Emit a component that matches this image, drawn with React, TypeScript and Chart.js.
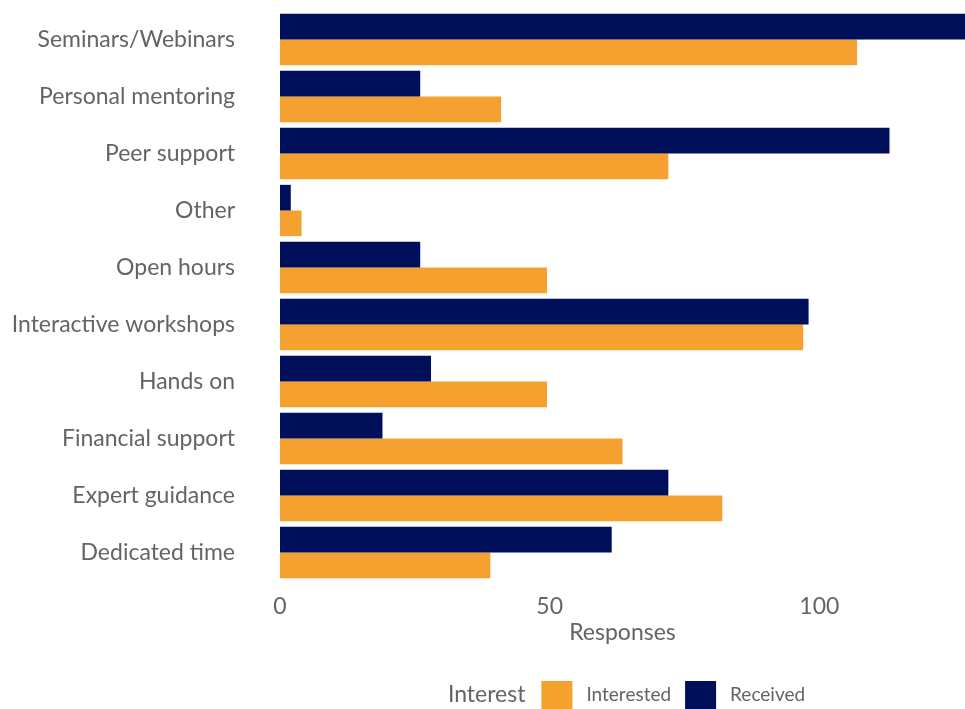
import React, { useEffect, useRef } from "react";
import { Chart, registerables } from "chart.js";

Chart.register(...registerables);

const categories = [
  "Seminars/Webinars",
  "Personal mentoring",
  "Peer support",
  "Other",
  "Open hours",
  "Interactive workshops",
  "Hands on",
  "Financial support",
  "Expert guidance",
  "Dedicated time",
];
const received = [127, 26, 113, 2, 26, 98, 28, 19, 72, 61.5];
const interested = [107, 41, 72, 4, 49.5, 97, 49.5, 63.5, 82, 39];
const xTicks = [0, 50, 100];
const xMax = 127;
const legendTitle = "Interest";
const xTitle = "Responses";

const NAVY = "#000f5a";
const ORANGE = "#f5a12f";
const TEXT = "#646464";
const FONT = "Lato, 'Open Sans', sans-serif";

const legendPlugin = {
  id: "ggLegend",
  afterDraw(chart: any) {
    const ctx = chart.ctx;
    const area = chart.chartArea;
    const items = [
      { label: "Interested", color: ORANGE },
      { label: "Received", color: NAVY },
    ];
    const cy = 695;
    const boxW = 31;
    const boxH = 28;
    ctx.save();
    ctx.textBaseline = "middle";
    ctx.font = `23px ${FONT}`;
    const titleW = ctx.measureText(legendTitle).width;
    ctx.font = `19px ${FONT}`;
    const widths = items.map((it) => ctx.measureText(it.label).width);
    const gapTitle = 16;
    const gapBox = 14;
    const gapItem = 14;
    let total = titleW + gapTitle;
    widths.forEach((w, i) => {
      total += boxW + gapBox + w + (i < items.length - 1 ? gapItem : 0);
    });
    const center = (area.left + area.right) / 2 + 4;
    let x = center - total / 2;
    ctx.fillStyle = TEXT;
    ctx.font = `23px ${FONT}`;
    ctx.textAlign = "left";
    ctx.fillText(legendTitle, x, cy);
    x += titleW + gapTitle;
    ctx.font = `19px ${FONT}`;
    items.forEach((it, i) => {
      ctx.fillStyle = it.color;
      ctx.fillRect(x, cy - boxH / 2, boxW, boxH);
      x += boxW + gapBox;
      ctx.fillStyle = TEXT;
      ctx.fillText(it.label, x, cy);
      x += widths[i] + gapItem;
    });
    ctx.restore();
  },
};

export default function App() {
  const ref = useRef<HTMLCanvasElement | null>(null);

  useEffect(() => {
    document.body.style.margin = "0";
    const canvas = ref.current;
    if (!canvas) return;
    const chart = new Chart(canvas, {
      type: "bar",
      data: {
        labels: categories,
        datasets: [
          {
            label: "Received",
            data: received,
            backgroundColor: NAVY,
            categoryPercentage: 0.9,
            barPercentage: 1,
          },
          {
            label: "Interested",
            data: interested,
            backgroundColor: ORANGE,
            categoryPercentage: 0.9,
            barPercentage: 1,
          },
        ],
      },
      options: {
        indexAxis: "y",
        animation: false,
        responsive: false,
        maintainAspectRatio: false,
        layout: { padding: { top: 11, bottom: 55, right: 0, left: 0 } },
        plugins: {
          legend: { display: false },
          tooltip: { enabled: false },
        },
        scales: {
          x: {
            min: 0,
            max: xMax,
            grid: { display: false, drawTicks: false },
            border: { display: false },
            afterBuildTicks: (scale: any) => {
              scale.ticks = xTicks.map((v) => ({ value: v }));
            },
            afterFit: (scale: any) => {
              scale.height = 73;
            },
            ticks: {
              color: TEXT,
              font: { family: FONT, size: 23 },
              padding: 12,
              maxRotation: 0,
            },
            title: {
              display: true,
              text: xTitle,
              color: TEXT,
              font: { family: FONT, size: 23 },
              padding: { top: 0, bottom: 8 },
            },
          },
          y: {
            grid: { display: false, drawTicks: false },
            border: { display: false },
            afterFit: (scale: any) => {
              scale.width = 280;
              scale.paddingTop = 0;
              scale.paddingBottom = 0;
            },
            ticks: {
              color: TEXT,
              font: { family: FONT, size: 23 },
              padding: 45,
            },
          },
        },
      },
      plugins: [legendPlugin],
    });
    return () => chart.destroy();
  }, []);

  return (
    <div style={{ position: "absolute", left: 0, top: 0, width: 965, height: 709, background: "#fff" }}>
      <canvas ref={ref} width={965} height={709} style={{ display: "block" }} />
    </div>
  );
}
